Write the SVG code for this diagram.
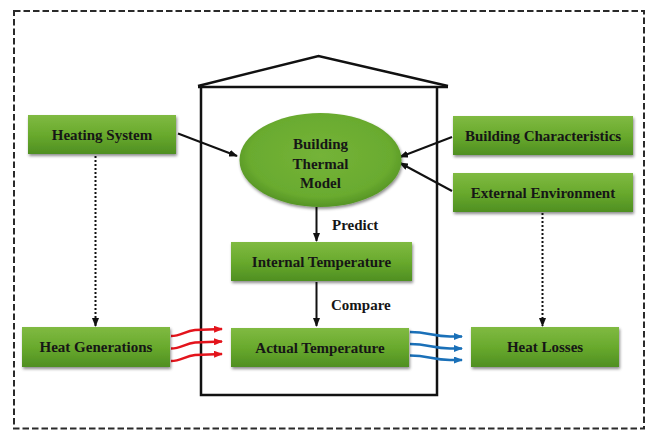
<svg xmlns="http://www.w3.org/2000/svg" width="647" height="431" viewBox="0 0 647 431">
  <defs>
    <style>
      .box { fill: url(#boxFill); filter: url(#shadow); }
      .lbl { font-family: "Liberation Serif", "Times New Roman", serif; font-weight: bold; font-size: 15px; fill: #161616; text-anchor: middle; }
      .tag { font-family: "Liberation Serif", "Times New Roman", serif; font-weight: bold; font-size: 15px; fill: #161616; }
      .house { fill: none; stroke: #111; stroke-width: 2.5; stroke-linejoin: miter; }
      .solid { fill: none; stroke: #111; stroke-width: 2; marker-end: url(#arrowBlack); }
      .dotted { fill: none; stroke: #111; stroke-width: 2; stroke-dasharray: 2 2; marker-end: url(#arrowBlack); }
      .heat { fill: none; stroke: #e3141c; stroke-width: 2.5; marker-end: url(#arrowRed); }
      .loss { fill: none; stroke: #1a70b8; stroke-width: 2.5; marker-end: url(#arrowBlue); }
    </style>
    <linearGradient id="boxFill" x1="0" y1="0" x2="0" y2="1">
      <stop offset="0" stop-color="#80ba42"/>
      <stop offset="0.5" stop-color="#69aa2d"/>
      <stop offset="1" stop-color="#4f8f22"/>
    </linearGradient>
    <radialGradient id="ovalFill" cx="0.5" cy="0.45" r="0.55">
      <stop offset="0" stop-color="#74b338"/>
      <stop offset="0.8" stop-color="#6aab2f"/>
      <stop offset="1" stop-color="#559425"/>
    </radialGradient>
    <filter id="shadow" x="-10%" y="-20%" width="125%" height="150%">
      <feDropShadow dx="1" dy="2" stdDeviation="1.5" flood-color="#000" flood-opacity="0.45"/>
    </filter>
    <marker id="arrowBlack" viewBox="0 0 9 7" refX="8" refY="3.5" markerWidth="9" markerHeight="7" markerUnits="userSpaceOnUse" orient="auto">
      <path d="M0,0 L9,3.5 L0,7 z" fill="#111"/>
    </marker>
    <marker id="arrowRed" viewBox="0 0 9 7" refX="8" refY="3.5" markerWidth="9" markerHeight="7" markerUnits="userSpaceOnUse" orient="auto">
      <path d="M0,0 L9,3.5 L0,7 z" fill="#e3141c"/>
    </marker>
    <marker id="arrowBlue" viewBox="0 0 9 7" refX="8" refY="3.5" markerWidth="9" markerHeight="7" markerUnits="userSpaceOnUse" orient="auto">
      <path d="M0,0 L9,3.5 L0,7 z" fill="#1a70b8"/>
    </marker>
  </defs>

  <rect width="647" height="431" fill="#fff"/>

  <!-- system boundary -->
  <rect x="14" y="11" width="630" height="417.5" fill="none" stroke="#2a2a2a" stroke-width="2" stroke-dasharray="6.5 3"/>

  <!-- house outline -->
  <g id="house">
    <polyline class="house" points="198,86 318.5,56 448,86"/>
    <line class="house" x1="198" y1="87" x2="448" y2="87"/>
    <polyline class="house" points="201,87 201,395 437,395 437,87"/>
  </g>

  <g id="connectors">
    <line class="solid" x1="178" y1="133.5" x2="237" y2="156"/>
    <line class="solid" x1="452" y1="137" x2="400" y2="157"/>
    <line class="solid" x1="452" y1="191" x2="400" y2="163"/>
    <line class="solid" x1="316.5" y1="207" x2="316.5" y2="241"/>
    <line class="solid" x1="316.5" y1="282" x2="316.5" y2="326"/>
    <line class="dotted" x1="95.5" y1="156" x2="95.5" y2="326"/>
    <line class="dotted" x1="542.5" y1="213" x2="542.5" y2="326"/>
    <path class="heat" d="M171,336 C181,336 185,331 195,330 L222,329"/>
    <path class="heat" d="M171,348.5 C181,348.5 185,343.5 195,342.5 L222,341.5"/>
    <path class="heat" d="M171,361 C181,361 185,356 195,355 L222,354"/>
    <path class="loss" d="M410,332 C428,332 432,336 450,336.5 L462,336.5"/>
    <path class="loss" d="M410,344 C428,344 432,348 450,348.5 L462,348.5"/>
    <path class="loss" d="M410,355.5 C428,355.5 432,359.5 450,360 L462,360"/>
    <text class="tag" x="332" y="230">Predict</text>
    <text class="tag" x="331" y="309.5">Compare</text>
  </g>

  <g id="heating-system">
    <rect class="box" x="28" y="115" width="148" height="39"/>
    <text class="lbl" x="102" y="139.5">Heating System</text>
  </g>

  <g id="building-thermal-model">
    <ellipse cx="320.5" cy="160" rx="81" ry="47" fill="url(#ovalFill)" filter="url(#shadow)"/>
    <text class="lbl" x="320.5" y="148.5">Building</text>
    <text class="lbl" x="320.5" y="168.5">Thermal</text>
    <text class="lbl" x="320.5" y="188">Model</text>
  </g>

  <g id="building-characteristics">
    <rect class="box" x="453" y="116" width="180" height="39"/>
    <text class="lbl" x="543" y="140.5">Building Characteristics</text>
  </g>

  <g id="external-environment">
    <rect class="box" x="453" y="173" width="180" height="39"/>
    <text class="lbl" x="543" y="197.5">External Environment</text>
  </g>

  <g id="internal-temperature">
    <rect class="box" x="231" y="242" width="181" height="39"/>
    <text class="lbl" x="321.5" y="266.5">Internal Temperature</text>
  </g>

  <g id="actual-temperature">
    <rect class="box" x="231" y="328" width="178" height="39"/>
    <text class="lbl" x="320" y="352.5">Actual Temperature</text>
  </g>

  <g id="heat-generations">
    <rect class="box" x="22" y="327" width="148" height="40"/>
    <text class="lbl" x="96" y="352">Heat Generations</text>
  </g>

  <g id="heat-losses">
    <rect class="box" x="471" y="327" width="148" height="40"/>
    <text class="lbl" x="545" y="352">Heat Losses</text>
  </g>
</svg>
